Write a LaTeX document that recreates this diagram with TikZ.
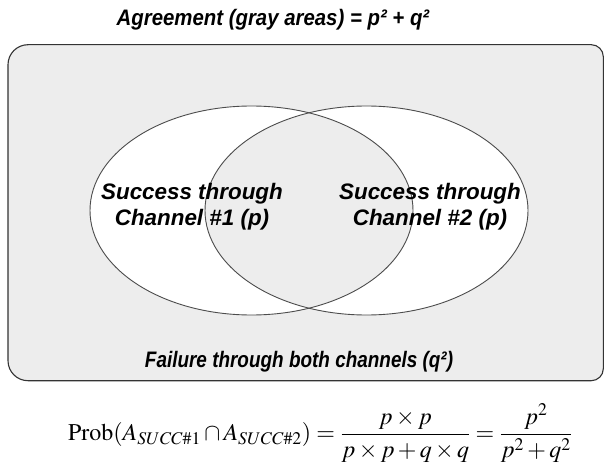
\documentclass[tikz,border=0pt]{standalone}
\usepackage{mathptmx}
\usepackage[no-math]{fontspec}
\newfontfamily\labelfont{Liberation Sans}
\newfontfamily\titlefont{Liberation Sans}[FakeStretch=0.91]
\newfontfamily\failfont{Liberation Sans}[FakeStretch=0.845]
\begin{document}
\begin{tikzpicture}[x=1pt,y=1pt,
  lbl/.style={font=#1\bfseries\itshape\fontsize{22.4}{26.7}\selectfont, align=center, inner sep=0pt},
  venn/.style={draw=black!70, line width=0.9pt}]
\useasboundingbox (0,0) rectangle (604,472);
% frame with the gray area
\draw[fill=gray!14, draw=black!80, line width=1.1pt] (8,407.3) arc[start angle=180,end angle=90,radius=20]
  -- (591.3,427.3) arc[start angle=90,end angle=0,radius=12]
  -- (603.3,103.3) arc[start angle=0,end angle=-90,radius=12]
  -- (28,91.3) arc[start angle=270,end angle=180,radius=20] -- cycle;
% the two channels
\fill[white] (251.5,261.5) ellipse[x radius=161.5,y radius=104.5];
\fill[white] (366.5,261.5) ellipse[x radius=161.5,y radius=104.5];
\begin{scope}
  \clip (251.5,261.5) ellipse[x radius=161.5,y radius=104.5];
  \fill[gray!14] (366.5,261.5) ellipse[x radius=161.5,y radius=104.5];
\end{scope}
\draw[venn] (251.5,261.5) ellipse[x radius=161.5,y radius=104.5];
\draw[venn] (366.5,261.5) ellipse[x radius=161.5,y radius=104.5];
% labels
\node[lbl=\titlefont, anchor=base] (title) at (273,446) {Agreement (gray areas) = p² + q²};
\node[lbl=\labelfont] (ch1) at (192,265.3) {Success through\\Channel \#1 (p)};
\node[lbl=\labelfont] (ch2) at (430,265.3) {Success through\\Channel \#2 (p)};
\node[lbl=\failfont, anchor=base] (fail) at (299,105) {Failure through both channels (q²)};
\node[inner sep=0pt, font=\fontsize{24}{28}\selectfont] (prob) at (320,39)
  {$\displaystyle\mathrm{Prob}(A_{SUCC\#1}\cap A_{SUCC\#2})=\frac{p\times p}{p\times p+q\times q}=\frac{p^2}{p^2+q^2}$};
\end{tikzpicture}
\end{document}
